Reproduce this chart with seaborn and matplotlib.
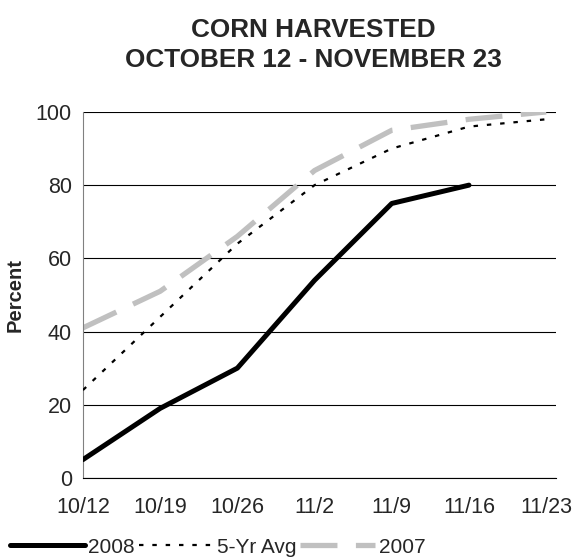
import pandas as pd
import seaborn as sns
import matplotlib.pyplot as plt

weeks = ['10/12', '10/19', '10/26', '11/2', '11/9', '11/16', '11/23']
corn_2008 = [5, 19, 30, 54, 75, 80]
avg_5yr = [24, 44, 64, 80, 90, 96, 98]
corn_2007 = [41, 51, 66, 84, 95, 98, 100]

sns.set_style("white")
plt.rcParams['font.family'] = ['Liberation Sans', 'DejaVu Sans']

fig = plt.figure(figsize=(5.8, 5.57), dpi=100)
ax = fig.add_axes([0.143, 0.142, 0.816, 0.657])

df_2008 = pd.DataFrame({'pos': range(len(corn_2008)), 'pct': corn_2008})
df_avg = pd.DataFrame({'pos': range(len(avg_5yr)), 'pct': avg_5yr})
df_2007 = pd.DataFrame({'pos': range(len(corn_2007)), 'pct': corn_2007})

sns.lineplot(data=df_2008, x='pos', y='pct', ax=ax, color='black', lw=3.6,
             label='2008', solid_capstyle='round', zorder=4)
sns.lineplot(data=df_avg, x='pos', y='pct', ax=ax, color='black', lw=1.6,
             dashes=False, label='5-Yr Avg', zorder=3)
ax.lines[-1].set_dashes((2, 4))
sns.lineplot(data=df_2007, x='pos', y='pct', ax=ax, color='#c0c0c0', lw=3.8,
             label='2007', zorder=2)
ax.lines[-1].set_dashes((7, 3.5))

ax.set_xlim(0, 6.13)
ax.set_ylim(0, 100)
ax.set_xticks(range(len(weeks)))
ax.set_xticklabels(weeks)
ax.set_yticks([0, 20, 40, 60, 80, 100])
ax.yaxis.grid(True, color='black', lw=0.8)
ax.set_axisbelow(True)

for s in ['top', 'right']:
    ax.spines[s].set_visible(False)
ax.spines['left'].set_color('#808080')
ax.spines['bottom'].set_color('black')
ax.tick_params(axis='y', direction='out', length=5, color='#808080', labelsize=15.5, pad=3)
ax.tick_params(axis='x', direction='out', length=6, color='black', labelsize=15.5, pad=8)

ax.set_xlabel('')
ax.set_ylabel('Percent', fontsize=14.5, fontweight='bold', labelpad=8)
fig.text(0.54, 0.967, 'CORN HARVESTED\nOCTOBER 12 - NOVEMBER 23', ha='center', va='top',
         fontsize=18.8, fontweight='bold', linespacing=1.3)

ax.get_legend().remove()
handles, labels = ax.get_legend_handles_labels()
fig.legend(handles, labels, loc='lower center', bbox_to_anchor=(0.375, -0.022), ncol=3,
           frameon=False, fontsize=15, handlelength=3.6, handletextpad=0.15,
           columnspacing=0.2, borderaxespad=0.2)

fig.savefig('out.png', dpi=100)
